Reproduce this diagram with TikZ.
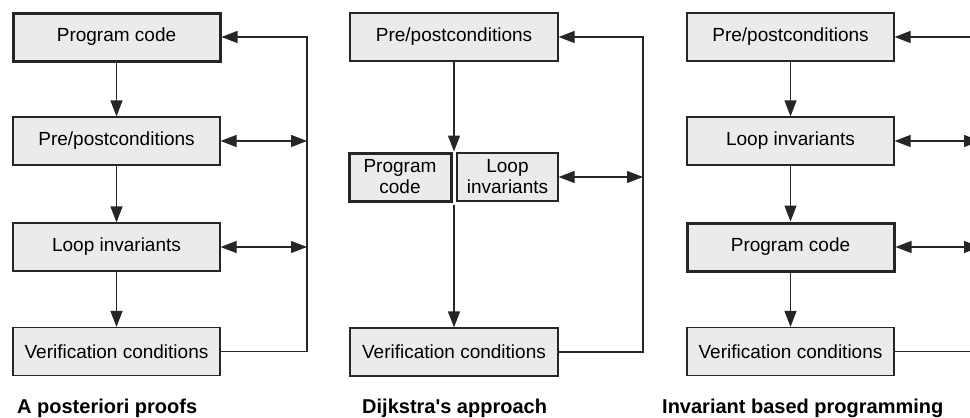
\documentclass[tikz,border=0pt]{standalone}
\usepackage{fontspec}
\setmainfont{Liberation Sans}
\usetikzlibrary{arrows.meta}

\definecolor{boxgray}{HTML}{EBEBEB}
\definecolor{linegray}{HTML}{262626}

\tikzset{
  stage/.style={draw=linegray, fill=boxgray, line width=1.2pt, minimum width=207pt,
    minimum height=48pt, inner sep=0pt, align=center, font=\fontsize{19}{21}\selectfont},
  mainstage/.style={stage, line width=3pt},
  tip/.tip={Triangle[length=16pt,width=12pt]},
  flow/.style={draw=linegray, line width=1.2pt, -tip},
  twoway/.style={flow, tip-tip},
  caption/.style={anchor=base west, inner sep=0pt, font=\fontsize{20}{22}\selectfont\bfseries}
}

\begin{document}
\begin{tikzpicture}[x=1pt, y=-1pt]
\useasboundingbox (0,0) rectangle (970,418);
\clip (0,0) rectangle (970,418);

% A posteriori proofs
\node[mainstage] (codeA) at (116.5, 37) {Program code};
\node[stage] (preA) at (116.5, 141) {Pre/postconditions};
\node[stage] (loopA) at (116.5, 247) {Loop invariants};
\node[stage] (verA) at (116.5, 351.5) {Verification conditions};
\coordinate (fbA) at (307, 0);

\draw[flow] (codeA) -- (preA);
\draw[flow] (preA) -- (loopA);
\draw[flow] (loopA) -- (verA);
\draw[flow] (verA.east) -| (fbA |- codeA.east) -- (codeA.east);
\draw[twoway] (preA.east) -- (fbA |- preA.east);
\draw[twoway] (loopA.east) -- (fbA |- loopA.east);

\node[caption] (titleA) at (17, 413) {A posteriori proofs};

% Dijkstra's approach
\node[stage, minimum width=208pt] (preB) at (454, 37) {Pre/postconditions};
\node[mainstage, minimum width=102pt] (codeB) at (400, 177) {Program\\code};
\node[stage, minimum width=101pt] (loopB) at (507.5, 177) {Loop\\invariants};
\node[stage, minimum width=208pt] (verB) at (454, 352) {Verification conditions};
\coordinate (gapB) at (454, 205);
\coordinate (fbB) at (643, 0);

\draw[flow] (preB.south) -- (preB.south |- codeB.north);
\draw[flow] (gapB) -- (verB.north);
\draw[flow] (verB.east) -| (fbB |- preB.east) -- (preB.east);
\draw[twoway] (loopB.east) -- (fbB |- loopB.east);

\node[caption] (titleB) at (362, 413) {Dijkstra\textquotesingle s approach};

% Invariant based programming
\node[stage] (preC) at (790.5, 37) {Pre/postconditions};
\node[stage] (loopC) at (790.5, 141) {Loop invariants};
\node[mainstage] (codeC) at (790.5, 247) {Program code};
\node[stage] (verC) at (790.5, 351.5) {Verification conditions};
\coordinate (fbC) at (980, 0);

\draw[flow] (preC) -- (loopC);
\draw[flow] (loopC) -- (codeC);
\draw[flow] (codeC) -- (verC);
\draw[flow] (verC.east) -| (fbC |- preC.east) -- (preC.east);
\draw[twoway] (loopC.east) -- (fbC |- loopC.east);
\draw[twoway] (codeC.east) -- (fbC |- codeC.east);

\node[caption] (titleC) at (662, 413) {Invariant based programming};
\end{tikzpicture}
\end{document}
